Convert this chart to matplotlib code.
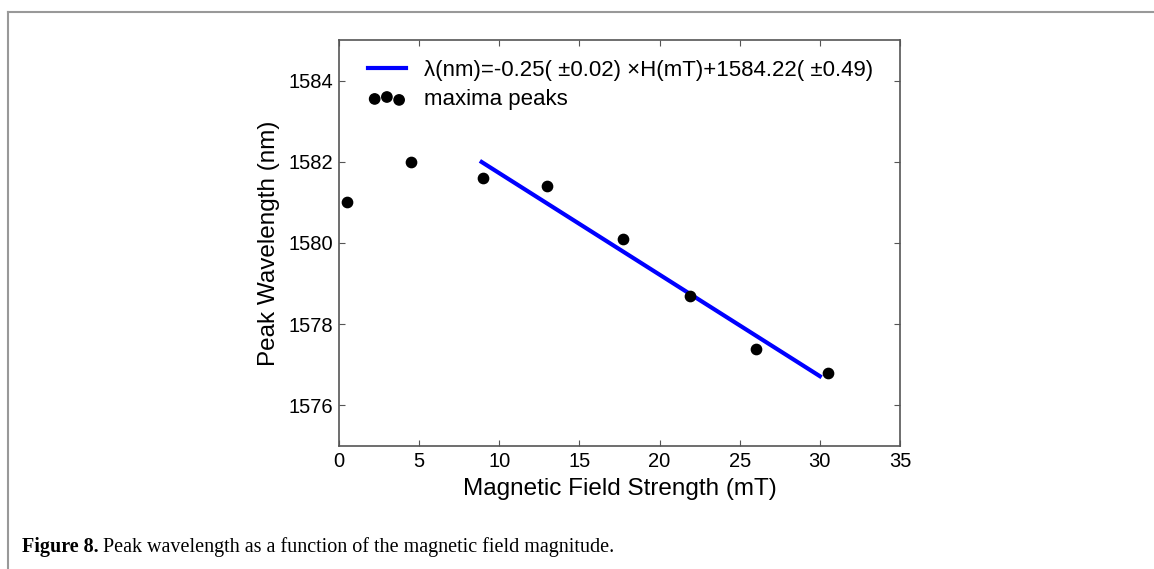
import matplotlib.pyplot as plt
from matplotlib.lines import Line2D

# measured peaks
field_mT = [0.5, 4.5, 9.0, 13.0, 17.7, 21.9, 26.0, 30.5]
peak_nm = [1581.0, 1582.0, 1581.6, 1581.4, 1580.1, 1578.7, 1577.4, 1576.8]

# linear fit over the upper field range
fit_slope = -0.25
fit_intercept = 1584.22
fit_range = [8.9, 30.0]

x_ticks = [0, 5, 10, 15, 20, 25, 30, 35]
y_ticks = [1576, 1578, 1580, 1582, 1584]

W, H = 1154, 569
plt.rcParams['font.family'] = ['Liberation Sans', 'DejaVu Sans']

fig = plt.figure(figsize=(W / 100, H / 100), dpi=100)
# axes box in pixels: left 339, right 900, top 40, bottom 446
ax = fig.add_axes([339 / W, 1 - 446 / H, (900 - 339) / W, (446 - 40) / H])

fit_y = [fit_slope * x + fit_intercept for x in fit_range]
ax.plot(fit_range, fit_y, color='#0000ff', linewidth=3,
        label=u'\u03bb(nm)=-0.25( \u00b10.02) \u00d7H(mT)+1584.22( \u00b10.49)')
ax.scatter(field_mT, peak_nm, s=55, color='black', zorder=3, label='maxima peaks')

ax.set_xlim(0, 35)
ax.set_ylim(1575, 1585)
ax.set_xticks(x_ticks)
ax.set_yticks(y_ticks)
ax.tick_params(direction='in', top=True, right=True, labelsize=14.5, length=4,
               color='#555555', pad=4)
for sp in ax.spines.values():
    sp.set_color('#555555')
    sp.set_linewidth(1.2)

ax.set_xlabel('Magnetic Field Strength (mT)', fontsize=17.5, labelpad=5)
ax.set_ylabel('Peak Wavelength (nm)', fontsize=17.5, labelpad=6)

ax.legend(loc='upper left', bbox_to_anchor=(29 / 561, 1 - 20 / 406), frameon=False,
          fontsize=16, scatterpoints=3, handlelength=1.7, handletextpad=0.8,
          borderaxespad=0, borderpad=0, labelspacing=0.35)

# page frame and caption
fig.add_artist(Line2D([8 / W, 8 / W], [0, 1 - 12 / H], color='#999999', linewidth=1.5,
                      transform=fig.transFigure))
fig.add_artist(Line2D([8 / W, 1], [1 - 12 / H, 1 - 12 / H], color='#999999', linewidth=1.5,
                      transform=fig.transFigure))
cap_y = 1 - 547 / H
bold = fig.text(22 / W, cap_y, 'Figure 8.', fontsize=14.5, fontweight='bold',
                family='Liberation Serif', va='center')
fig.canvas.draw()
bb = bold.get_window_extent()
fig.text(bb.x1 / W + 4 / W, cap_y, 'Peak wavelength as a function of the magnetic field magnitude.',
         fontsize=14.5, family='Liberation Serif', va='center')

fig.savefig('out.png', dpi=100)
